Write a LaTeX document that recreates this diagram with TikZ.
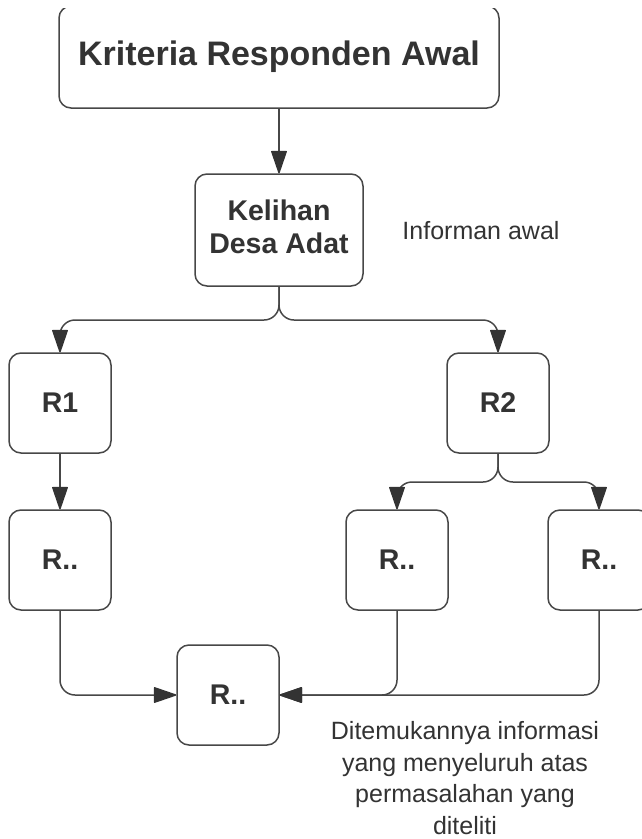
\documentclass[tikz,border=0pt]{standalone}
\usepackage{fontspec}
\setmainfont{Liberation Sans}
\usetikzlibrary{arrows.meta}
\definecolor{txt}{HTML}{333333}
\definecolor{ln}{HTML}{474747}
\begin{document}
\begin{tikzpicture}[x=1pt,y=-1pt,
  box/.style={draw=ln, line width=1.5pt, rounded corners=12pt, fill=white, text=txt,
    font=\bfseries\fontsize{28.5}{34}\selectfont, align=center, inner sep=0pt,
    minimum width=102pt, minimum height=100pt},
  conn/.style={draw=ln, line width=1.5pt, rounded corners=15pt,
    -{Triangle[length=24pt,width=16pt,round=false,color=txt]}},
  plain/.style={text=txt, font=\fontsize{25}{31.5}\selectfont, align=center, inner sep=0pt}]
\useasboundingbox (0,0) rectangle (642,839);
\clip (0,8) rectangle (642,839);
\node[box, minimum width=440pt, minimum height=102pt, font=\bfseries\fontsize{34}{40}\selectfont] (top) at (279,57) {\raisebox{5pt}{Kriteria Responden Awal}};
\node[box, minimum width=168pt, minimum height=112pt] (kel) at (279,230) {\raisebox{2pt}{\begin{tabular}{@{}c@{}}Kelihan\\[-1pt]Desa Adat\end{tabular}}};
\node[box] (r1) at (60,403) {R1};
\node[box] (r2) at (498,403) {R2};
\node[box] (ra) at (60,560) {R..};
\node[box] (rb) at (397,560) {R..};
\node[box] (rc) at (599,560) {R..};
\node[box] (rd) at (228,695) {R..};
\coordinate (f1) at (279,320);
\coordinate (f2) at (498,482);
\draw[conn] (top) -- (kel);
\draw[conn] (kel.south) -- (f1) -| (r1.north);
\draw[conn] (kel.south) -- (f1) -| (r2.north);
\draw[conn] (r1) -- (ra);
\draw[conn] (r2.south) -- (f2) -| (rb.north);
\draw[conn] (r2.south) -- (f2) -| (rc.north);
\draw[conn] (ra.south) |- (rd.west);
\draw[conn] (rc.south) |- (rd.east);
\draw[conn] (rb.south) |- (rd.east);
\node[plain] (inf) at (481,231) {Informan awal};
\node[plain] (note) at (465,778) {Ditemukannya informasi\\yang menyeluruh atas\\permasalahan yang\\diteliti};
\end{tikzpicture}
\end{document}
